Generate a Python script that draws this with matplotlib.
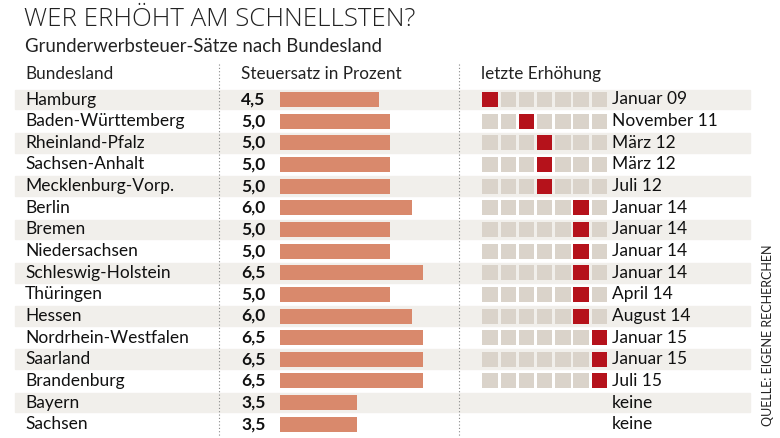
import matplotlib.pyplot as plt

laender = ["Hamburg", "Baden-Württemberg", "Rheinland-Pfalz", "Sachsen-Anhalt",
           "Mecklenburg-Vorp.", "Berlin", "Bremen", "Niedersachsen",
           "Schleswig-Holstein", "Thüringen", "Hessen", "Nordrhein-Westfalen",
           "Saarland", "Brandenburg", "Bayern", "Sachsen"]
saetze = [4.5, 5.0, 5.0, 5.0, 5.0, 6.0, 5.0, 5.0, 6.5, 5.0, 6.0, 6.5, 6.5, 6.5, 3.5, 3.5]
# year of last increase (None = keine), squares are years 2009..2015
jahre = [2009, 2011, 2012, 2012, 2012, 2014, 2014, 2014, 2014, 2014, 2014, 2015, 2015, 2015, None, None]
datum = ["Januar 09", "November 11", "März 12", "März 12", "Juli 12", "Januar 14",
         "Januar 14", "Januar 14", "Januar 14", "April 14", "August 14", "Januar 15",
         "Januar 15", "Juli 15", "keine", "keine"]
years = list(range(2009, 2016))

plt.rcParams['font.family'] = ['Lato', 'DejaVu Sans']
W, H = 780, 438
fig = plt.figure(figsize=(W / 100, H / 100), dpi=100)
ax = fig.add_axes([0, 0, 1, 1])
ax.set_xlim(0, W)
ax.set_ylim(H, 0)
ax.axis('off')

y0, dy = 99.5, 21.65
rows = [y0 + dy * i for i in range(len(laender))]

ax.text(24, 20, "WER ERHÖHT AM SCHNELLSTEN?", fontsize=18.6, fontweight=300,
        family=['Open Sans', 'DejaVu Sans'], color='#222222', va='center')
ax.text(25, 46, "Grunderwerbsteuer-Sätze nach Bundesland", fontsize=13.4,
        color='#222222', va='center')
ax.text(25, 74, "Bundesland", fontsize=12.3, color='#222222', va='center')
ax.text(241, 74, "Steuersatz in Prozent", fontsize=12.3, color='#222222', va='center')
ax.text(481, 74, "letzte Erhöhung", fontsize=12.3, color='#222222', va='center')
for xs in (219, 459):
    ax.plot([xs, xs], [64, 436], color='#888888', lw=0.8, ls=(0, (1, 2)))

for i, y in enumerate(rows):
    if i % 2 == 0:
        ax.add_patch(plt.Rectangle((15, y - dy / 2 + 1), 735, dy - 2,
                                   color='#f1efeb', zorder=0))
    ax.text(25, y, laender[i], fontsize=12.5, color='#111111', va='center')
    ax.text(241, y, f"{saetze[i]:.1f}".replace('.', ','), fontsize=12.5,
            fontweight='bold', color='#111111', va='center')
    ax.text(612, y, datum[i], fontsize=12.5, color='#111111', va='center')

# bars in their own axes, sharing the row positions
bx = fig.add_axes([280 / W, 0, 154 / W, 1])
bx.set_xlim(0, 7)
bx.set_ylim(H, 0)
bx.axis('off')
bx.barh(rows, saetze, height=15, color='#d9896c')

# squares
sx = fig.add_axes([481 / W, 0, (18.2 * 7) / W, 1])
sx.set_xlim(years[0] - 0.5, years[-1] + 0.5)
sx.set_ylim(H, 0)
sx.axis('off')
for y, j in zip(rows, jahre):
    if j is None:
        continue
    cols = ['#b5121b' if yr == j else '#dad3ca' for yr in years]
    sx.bar(years, [15] * 7, bottom=y - 7.5, width=0.84, color=cols)

ax.text(768, 335, "QUELLE: EIGENE RECHERCHEN", rotation=90, fontsize=9,
        color='#222222', va='center', ha='center')

fig.savefig("out.png", dpi=100)
